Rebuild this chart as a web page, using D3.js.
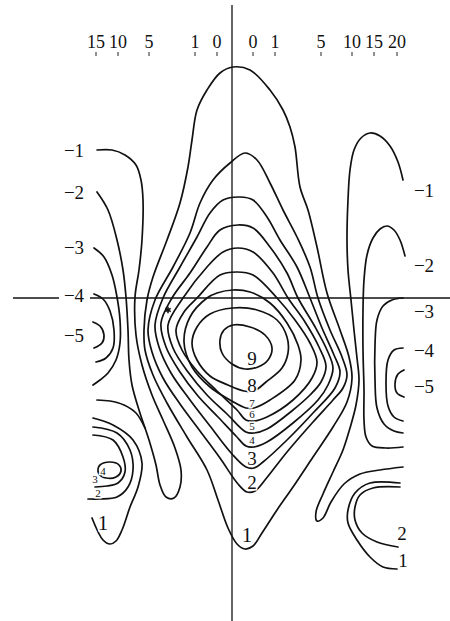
<!DOCTYPE html>
<html>
<head>
<meta charset="utf-8">
<script src="https://cdn.jsdelivr.net/npm/d3@7"></script>
<style>
  html, body { margin: 0; background: #fff; }
  text { font-family: "Liberation Serif", "DejaVu Serif", serif; fill: #111; }
</style>
</head>
<body>
<svg id="chart" width="450" height="621"></svg>
<script>
// Field coordinates: u grows to the right, v grows upward, origin at the crossing of the two axes.

// Closed isolines of the central high, levels 1..9 (outer to inner)
const centralLevels = [1, 2, 3, 4, 5, 6, 7, 8, 9];
const loop1 = [[1,231],[18,228],[38,208],[51,188],[58,171],[63,151],[68,111],[76,88],[85,51],[95,5],[108,-32],[117,-59],[120,-80],[115,-104],[101,-129],[81,-159],[61,-189],[45,-212],[30,-235],[21,-248],[13,-251],[5,-246],[-4,-230],[-14,-202],[-25,-172],[-45,-139],[-65,-105],[-79,-77],[-87,-52],[-88,-32],[-85,-2],[-79,21],[-65,58],[-52,95],[-44,131],[-40,158],[-35,188],[-25,208],[-12,225]];
const loop2 = [[13,145],[25,138],[38,115],[51,88],[65,61],[78,31],[86,0],[98,-32],[110,-59],[115,-77],[111,-90],[101,-102],[81,-124],[55,-154],[33,-182],[23,-193],[15,-194],[6,-186],[-12,-160],[-32,-133],[-52,-106],[-69,-80],[-80,-54],[-84,-32],[-77,-2],[-59,31],[-42,65],[-32,95],[-19,118],[-2,135]];
const loop3 = [[8,101],[21,98],[35,81],[48,58],[65,31],[78,0],[90,-30],[102,-57],[108,-74],[103,-90],[81,-115],[55,-142],[31,-164],[22,-170],[14,-169],[0,-156],[-22,-128],[-42,-102],[-61,-75],[-73,-49],[-77,-27],[-69,0],[-52,31],[-35,61],[-22,85],[-9,98]];
const loop4 = [[6,73],[21,70],[38,51],[55,25],[66,0],[82,-27],[95,-52],[101,-70],[96,-87],[86,-102],[61,-125],[35,-144],[22,-149],[14,-148],[4,-138],[-14,-119],[-34,-98],[-52,-74],[-66,-49],[-71,-25],[-60,0],[-42,25],[-25,51],[-12,68]];
const loop5 = [[6,50],[21,46],[41,25],[56,0],[73,-24],[87,-49],[94,-68],[89,-84],[78,-97],[61,-112],[35,-131],[22,-135],[14,-134],[-5,-116],[-25,-97],[-44,-74],[-59,-50],[-64,-27],[-49,0],[-25,31],[-9,46]];
const loop6 = [[5,26],[21,23],[45,0],[63,-22],[78,-45],[85,-64],[80,-80],[61,-102],[35,-119],[22,-123],[14,-122],[5,-112],[-15,-93],[-35,-73],[-50,-52],[-56,-32],[-48,-14],[-35,0],[-12,23]];
const loop7 = [[1,8],[18,6],[38,-5],[55,-25],[66,-47],[69,-62],[63,-82],[38,-102],[22,-110],[14,-110],[-2,-102],[-22,-89],[-40,-69],[-48,-44],[-42,-19],[-25,0],[-15,5]];
const loop8 = [[1,-10],[25,-12],[45,-22],[55,-39],[56,-55],[50,-70],[34,-84],[22,-93],[12,-93],[-4,-87],[-22,-78],[-35,-62],[-40,-45],[-35,-29],[-22,-16]];
const loop9 = [[1,-27],[18,-29],[33,-37],[40,-50],[36,-62],[26,-69],[13,-71],[0,-66],[-10,-55],[-12,-42],[-8,-32]];
const centralLoops = [loop1, loop2, loop3, loop4, loop5, loop6, loop7, loop8, loop9];

// Open isolines on the western side
const westNeg2to1 = [[-135,106],[-124,88],[-115,58],[-109,28],[-106,1],[-104,-32],[-103,-62],[-100,-87],[-93,-112],[-83,-142],[-76,-167],[-72,-187],[-66,-199],[-58,-200],[-52,-189],[-51,-172],[-57,-150],[-69,-122],[-80,-97],[-90,-67],[-96,-37],[-97,1],[-93,28],[-90,58],[-89,98],[-91,118],[-96,133],[-107,143],[-120,148],[-135,148]];
const westSpur = [[-135,-102],[-122,-103],[-108,-107],[-96,-115],[-87,-130]];
const westNeg3 = [[-138,50],[-128,41],[-120,23],[-115,1],[-112,-22],[-112,-45],[-116,-62],[-124,-75],[-132,-82],[-139,-87]];
const westNeg4 = [[-138,4],[-129,-1],[-122,-13],[-118,-32],[-119,-50],[-126,-60],[-136,-64]];
const westNeg5 = [[-139,-24],[-132,-28],[-128,-37],[-130,-45],[-138,-50]];
const westPos1 = [[-139,-120],[-119,-127],[-99,-142],[-90,-165],[-94,-189],[-102,-209],[-110,-232],[-116,-243],[-122,-246],[-129,-242],[-140,-220]];
const westPos2 = [[-139,-129],[-115,-135],[-102,-152],[-99,-172],[-104,-189],[-115,-199],[-132,-201],[-144,-201]];
const westPos3 = [[-139,-137],[-119,-142],[-109,-159],[-107,-174],[-114,-185],[-125,-188],[-137,-189]];
const westPos4 = [[-132,-167],[-122,-164],[-113,-167],[-111,-173],[-116,-179],[-126,-180],[-133,-176],[-134,-171]];

// Open isolines on the eastern side
const eastNeg1 = [[171,118],[166,136],[158,152],[148,162],[138,165],[129,160],[122,148],[118,128],[116,98],[115,58],[116,28],[119,-2],[122,-32],[125,-60],[127,-82],[124,-107],[118,-130],[111,-152],[101,-174],[91,-196],[84,-214],[85,-223],[91,-220],[99,-204],[112,-186],[128,-176],[148,-172],[171,-169]];
const eastNeg2 = [[173,42],[168,58],[162,68],[155,72],[148,69],[141,60],[135,43],[132,18],[131,-12],[131,-52],[132,-92],[132,-122],[134,-139],[140,-148],[154,-150],[171,-149]];
const eastNeg3 = [[171,0],[160,-2],[151,-8],[145,-22],[143,-47],[143,-82],[145,-110],[152,-126],[162,-133],[171,-135]];
const eastNeg4 = [[171,-50],[162,-52],[156,-62],[154,-85],[156,-108],[162,-119],[171,-123]];
const eastNeg5 = [[172,-72],[166,-76],[163,-86],[165,-95],[172,-99]];
const eastPos2 = [[168,-189],[141,-190],[128,-197],[123,-209],[123,-222],[130,-235],[145,-244],[166,-249]];
const eastPos1 = [[168,-185],[138,-185],[123,-195],[116,-212],[116,-225],[125,-242],[138,-259],[151,-269],[165,-271]];

const openLines = [westNeg2to1, westSpur, westNeg3, westNeg4, westNeg5, westPos1, westPos2, westPos3,
                   eastNeg1, eastNeg2, eastNeg3, eastNeg4, eastNeg5, eastPos2, eastPos1];
const closedSmall = [westPos4];

// Level labels
const centralLabelText = ["9", "8", "7", "6", "5", "4", "3", "2", "1"];
const centralLabelPos = [[20,-60],[20,-87],[20,-105],[20,-116],[20,-128],[20,-142],[20,-160],[20,-184],[15,-237]];
const centralLabelSize = [19, 19, 11, 11, 11, 11, 19, 19, 21];

const westLabelText = ["−1", "−2", "−3", "−4", "−5"];
const westLabelV = [148, 106, 51, 3, -37];
const eastLabelText = ["−1", "−2", "−3", "−4", "−5"];
const eastLabelV = [108, 33, -13, -52, -88];

const extraLabelText = ["4", "3", "2", "1", "2", "1"];
const extraLabelPos = [[-129,-173],[-137,-181],[-134,-195],[-129,-225],[170,-235],[171,-262]];
const extraLabelSize = [11, 11, 11, 21, 19, 19];

// Distance scale along the top edge
const distTicks = [0, 1, 5, 10, 15, 20];
const distTicksWest = [0, 1, 5, 10, 15];
const distOffsets = [0, 22, 68, 99, 121, 144];
const westZero = -15, eastZero = 21;

const markerPos = [-64, -12];

const svg = d3.select("#chart");
const x = d3.scaleLinear().domain([-232, 218]).range([0, 450]);
const y = d3.scaleLinear().domain([298, -323]).range([0, 621]);
const dist = d3.scaleLinear().domain(distTicks).range(distOffsets);

// axes
const axisG = svg.append("g").attr("stroke", "#111").attr("stroke-width", 1.3);
axisG.append("line").attr("x1", x(0)).attr("x2", x(0)).attr("y1", y(293)).attr("y2", y(-323));
axisG.append("line").attr("x1", x(-219)).attr("x2", x(-173)).attr("y1", y(0)).attr("y2", y(0));
axisG.append("line").attr("x1", x(-142)).attr("x2", x(218)).attr("y1", y(0)).attr("y2", y(0));

// top distance ticks
const tickData = distTicksWest.map(d => ({ d, u: westZero - dist(d) }))
  .concat(distTicks.map(d => ({ d, u: eastZero + dist(d) })));
const tickG = svg.append("g");
tickG.selectAll("line").data(tickData).join("line")
  .attr("x1", t => x(t.u)).attr("x2", t => x(t.u))
  .attr("y1", y(246)).attr("y2", y(242))
  .attr("stroke", "#222").attr("stroke-width", 1);
tickG.selectAll("text").data(tickData).join("text")
  .attr("x", t => x(t.u)).attr("y", y(250))
  .attr("text-anchor", "middle").attr("font-size", 18)
  .text(t => t.d);

// isolines
const openLine = d3.line().x(d => x(d[0])).y(d => y(d[1])).curve(d3.curveCatmullRom.alpha(0.5));
const closedLine = d3.line().x(d => x(d[0])).y(d => y(d[1])).curve(d3.curveCatmullRomClosed.alpha(0.5));

const lineG = svg.append("g").attr("fill", "none").attr("stroke", "#111")
  .attr("stroke-width", 1.7).attr("stroke-linejoin", "round").attr("stroke-linecap", "round");
lineG.selectAll("path.central").data(centralLoops).join("path").attr("class", "central")
  .attr("d", closedLine);
lineG.selectAll("path.open").data(openLines).join("path").attr("class", "open")
  .attr("d", openLine);
lineG.selectAll("path.small").data(closedSmall).join("path").attr("class", "small")
  .attr("d", closedLine);

// small star marker
svg.append("path")
  .attr("d", d3.symbol(d3.symbolAsterisk, 28)())
  .attr("transform", `translate(${x(markerPos[0])},${y(markerPos[1])})`)
  .attr("stroke", "#111").attr("stroke-width", 1.5).attr("fill", "none");

// labels
function label(g, txt, u, v, size) {
  g.append("text")
    .attr("x", x(u)).attr("y", y(v))
    .attr("text-anchor", "middle").attr("dominant-baseline", "central")
    .attr("font-size", size)
    .attr("stroke", "#fff").attr("stroke-width", 3).attr("paint-order", "stroke")
    .text(txt);
}
const labG = svg.append("g");
centralLabelText.forEach((t, i) => label(labG, t, centralLabelPos[i][0], centralLabelPos[i][1], centralLabelSize[i]));
westLabelText.forEach((t, i) => label(labG, t, -158, westLabelV[i], 19));
eastLabelText.forEach((t, i) => label(labG, t, 192, eastLabelV[i], 19));
extraLabelText.forEach((t, i) => label(labG, t, extraLabelPos[i][0], extraLabelPos[i][1], extraLabelSize[i]));
</script>
</body>
</html>
